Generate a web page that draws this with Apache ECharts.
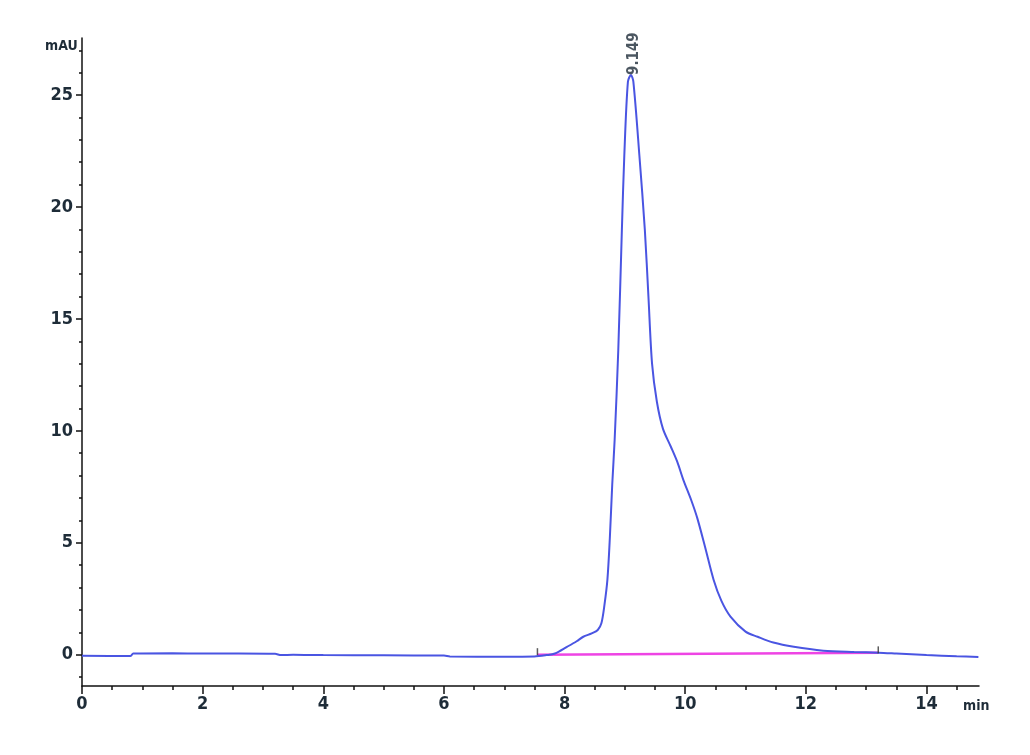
<!DOCTYPE html>
<html>
<head>
<meta charset="utf-8">
<script src="https://cdn.jsdelivr.net/npm/echarts@6/dist/echarts.min.js"></script>
<style>
html,body{margin:0;padding:0;background:#fff;}
#c{width:1030px;height:755px;}
</style>
</head>
<body>
<div id="c"></div>
<script>
// Chromatogram trace (time in min, absorbance in mAU)
var traceTime = [0, 0.8, 0.85, 1.5, 2.0, 2.6, 3.2, 3.3, 3.5, 4.0, 5.0, 6.0, 6.1, 7.0, 7.5, 7.7, 7.84, 8.04, 8.2, 8.31, 8.45, 8.55, 8.61, 8.66, 8.71, 8.75, 8.79, 8.83, 8.89, 8.95, 8.99, 9.05, 9.1, 9.14, 9.24, 9.33, 9.39, 9.45, 9.53, 9.63, 9.76, 9.87, 9.97, 10.1, 10.2, 10.33, 10.47, 10.6, 10.75, 11.0, 11.2, 11.46, 11.8, 12.29, 12.8, 13.2, 13.5, 14.0, 14.5, 14.86];
var traceValue = [-0.05, -0.06, 0.05, 0.06, 0.05, 0.05, 0.04, -0.02, 0.0, -0.02, -0.03, -0.04, -0.08, -0.09, -0.08, -0.02, 0.05, 0.35, 0.6, 0.8, 0.95, 1.1, 1.4, 2.2, 3.35, 5.2, 7.6, 9.6, 13.6, 19.0, 22.3, 25.6, 25.9, 25.6, 22.3, 19.0, 16.0, 13.0, 11.3, 10.1, 9.3, 8.6, 7.8, 6.9, 6.1, 4.8, 3.35, 2.4, 1.7, 1.03, 0.8, 0.54, 0.35, 0.18, 0.12, 0.09, 0.05, -0.02, -0.07, -0.1];
// Integration baseline
var baseTime = [7.55, 13.2];
var baseValue = [0.0, 0.08];
// Peak annotation
var peakTime = 9.1;
var peakValue = 25.9;
var peakLabel = '9.149';
// Axis ticks / labels
var xLabels = [0, 2, 4, 6, 8, 10, 12, 14];
var xMinor = [0.5, 1, 1.5, 2.5, 3, 3.5, 4.5, 5, 5.5, 6.5, 7, 7.5, 8.5, 9, 9.5, 10.5, 11, 11.5, 12.5, 13, 13.5, 14.5];
var yLabels = [0, 5, 10, 15, 20, 25];
var yMinor = [-1, 1, 2, 3, 4, 6, 7, 8, 9, 11, 12, 13, 14, 16, 17, 18, 19, 21, 22, 23, 24, 26, 27];
var yTitle = 'mAU';
var xTitle = 'min';

var X_MIN = 0, X_MAX = 14.87, Y_MIN = -1.4, Y_MAX = 27.55;
var FONT = '"Liberation Sans Narrow", "Arial Narrow", "DejaVu Sans Condensed", sans-serif';
var LABEL_COLOR = '#1e2c38';

function zip(a, b) { return a.map(function (v, i) { return [v, b[i]]; }); }

var chart = echarts.init(document.getElementById('c'));
chart.setOption({
  animation: false,
  backgroundColor: '#fff',
  grid: { left: 82, right: 51, top: 38, bottom: 69 },
  xAxis: [{
    type: 'value', min: X_MIN, max: X_MAX,
    axisLine: { show: true, onZero: false, lineStyle: { color: '#111', width: 1.5 } },
    axisTick: { show: true, length: 8, customValues: xLabels, lineStyle: { color: '#111', width: 1.5 } },
    axisLabel: { customValues: xLabels, margin: 9, fontFamily: FONT, fontSize: 18, fontWeight: 'bold', color: LABEL_COLOR },
    splitLine: { show: false }
  }, {
    type: 'value', min: X_MIN, max: X_MAX, position: 'bottom',
    axisLine: { show: false, onZero: false },
    axisTick: { show: true, length: 4, customValues: xMinor, lineStyle: { color: '#111', width: 1.5 } },
    axisLabel: { show: false },
    splitLine: { show: false }
  }],
  yAxis: [{
    type: 'value', min: Y_MIN, max: Y_MAX,
    axisLine: { show: true, onZero: false, lineStyle: { color: '#111', width: 1.5 } },
    axisTick: { show: true, length: 6, customValues: yLabels, lineStyle: { color: '#111', width: 1.5 } },
    axisLabel: { customValues: yLabels, margin: 9, fontFamily: FONT, fontSize: 18, fontWeight: 'bold', color: LABEL_COLOR },
    splitLine: { show: false }
  }, {
    type: 'value', min: Y_MIN, max: Y_MAX, position: 'left',
    axisLine: { show: false, onZero: false },
    axisTick: { show: true, length: 3, customValues: yMinor, lineStyle: { color: '#111', width: 1.5 } },
    axisLabel: { show: false },
    splitLine: { show: false }
  }],
  graphic: [
    { type: 'text', left: 45, top: 39, style: { text: yTitle, font: 'bold 14px ' + FONT, fill: LABEL_COLOR } },
    { type: 'text', left: 963, top: 699, style: { text: xTitle, font: 'bold 14px ' + FONT, fill: LABEL_COLOR } }
  ],
  series: [{
    type: 'line', name: 'baseline', data: zip(baseTime, baseValue),
    showSymbol: false, lineStyle: { color: '#ee44e4', width: 2.5 }, z: 2
  }, {
    type: 'line', name: 'trace', data: zip(traceTime, traceValue),
    smooth: 0.3, showSymbol: false, lineStyle: { color: '#4a55e2', width: 2 }, z: 3
  }, {
    type: 'scatter', name: 'baseline marks', data: zip(baseTime, baseValue),
    symbol: 'rect', symbolSize: [1.5, 7], symbolOffset: [0, -3], itemStyle: { color: '#333' }, z: 4, silent: true
  }, {
    type: 'scatter', name: 'peak', data: [[peakTime, peakValue]],
    symbolSize: 0, z: 5, silent: true,
    label: {
      show: true, formatter: peakLabel, rotate: 90, position: [0, 0], offset: [0, 3],
      align: 'left', verticalAlign: 'middle',
      fontFamily: FONT, fontSize: 15, fontWeight: 'bold', color: '#1e2c38'
    }
  }]
});
</script>
</body>
</html>
